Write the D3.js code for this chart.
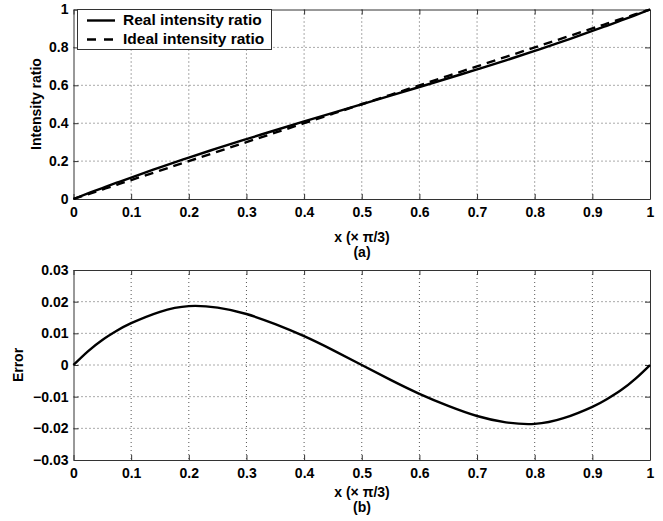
<!DOCTYPE html>
<html>
<head>
<meta charset="utf-8">
<script src="https://cdn.jsdelivr.net/npm/d3@7"></script>
<style>
  html, body { margin: 0; padding: 0; background: #fff; }
  svg { display: block; font-family: "Liberation Sans", Arial, Helvetica, sans-serif; font-weight: bold; }
</style>
</head>
<body>
<svg id="chart" width="663" height="521"></svg>
<script>
// ---- data ----
const xValues = [0, 0.025, 0.05, 0.075, 0.1, 0.15, 0.2, 0.25, 0.3, 0.35, 0.4, 0.45, 0.5,
                 0.55, 0.6, 0.65, 0.7, 0.75, 0.8, 0.85, 0.9, 0.925, 0.95, 0.975, 1];
const errorValues = [0, 0.0043, 0.0079, 0.0108, 0.0132, 0.0168, 0.0186, 0.0181, 0.0161, 0.0129, 0.0091, 0.0047, 0,
                     -0.0047, -0.0091, -0.0129, -0.0161, -0.0181, -0.0186, -0.0168, -0.0132, -0.0108, -0.0079, -0.0043, 0];
const idealRatio = [0, 0.025, 0.05, 0.075, 0.1, 0.15, 0.2, 0.25, 0.3, 0.35, 0.4, 0.45, 0.5,
                    0.55, 0.6, 0.65, 0.7, 0.75, 0.8, 0.85, 0.9, 0.925, 0.95, 0.975, 1];
const realRatio = [0, 0.0293, 0.0579, 0.0858, 0.1132, 0.1668, 0.2186, 0.2681, 0.3161, 0.3629, 0.4091, 0.4547, 0.5,
                   0.5453, 0.5909, 0.6371, 0.6839, 0.7319, 0.7814, 0.8332, 0.8868, 0.9142, 0.9421, 0.9707, 1];
const xTicks = [0, 0.1, 0.2, 0.3, 0.4, 0.5, 0.6, 0.7, 0.8, 0.9, 1];
const xTickLabels = ["0", "0.1", "0.2", "0.3", "0.4", "0.5", "0.6", "0.7", "0.8", "0.9", "1"];
const yTicksA = [0, 0.2, 0.4, 0.6, 0.8, 1];
const yTickLabelsA = ["0", "0.2", "0.4", "0.6", "0.8", "1"];
const yTicksB = [-0.03, -0.02, -0.01, 0, 0.01, 0.02, 0.03];
const yTickLabelsB = ["\u22120.03", "\u22120.02", "\u22120.01", "0", "0.01", "0.02", "0.03"];
const legendLabels = ["Real intensity ratio", "Ideal intensity ratio"];

// ---- drawing ----
const svg = d3.select("#chart");
const L = 73.5, R = 650;

function panel(top, bottom, yDomain, yTicks, yTickLabels) {
  const x = d3.scaleLinear().domain([0, 1]).range([L, R]);
  const y = d3.scaleLinear().domain(yDomain).range([bottom, top]);
  const g = svg.append("g");
  // grid
  g.append("g").selectAll("line").data(xTicks.slice(1, -1)).join("line")
    .attr("x1", d => x(d)).attr("x2", d => x(d)).attr("y1", top).attr("y2", bottom)
    .attr("stroke", "#555").attr("stroke-width", 1).attr("stroke-dasharray", "1,3");
  g.append("g").selectAll("line").data(yTicks.slice(1, -1)).join("line")
    .attr("y1", d => y(d)).attr("y2", d => y(d)).attr("x1", L).attr("x2", R)
    .attr("stroke", "#555").attr("stroke-width", 1).attr("stroke-dasharray", "1,3");
  // axes with inward ticks
  const fmtX = (d, i) => xTickLabels[i];
  const fmtY = (d, i) => yTickLabels[i];
  const ax = g.append("g").attr("transform", `translate(0,${bottom})`)
    .call(d3.axisBottom(x).tickValues(xTicks).tickFormat(fmtX).tickSizeInner(-5).tickSizeOuter(0).tickPadding(8));
  const ay = g.append("g").attr("transform", `translate(${L},0)`)
    .call(d3.axisLeft(y).tickValues(yTicks).tickFormat(fmtY).tickSizeInner(-5).tickSizeOuter(0).tickPadding(5));
  const at = g.append("g").attr("transform", `translate(0,${top})`)
    .call(d3.axisTop(x).tickValues(xTicks).tickFormat("").tickSizeInner(-5).tickSizeOuter(0));
  const ar = g.append("g").attr("transform", `translate(${R},0)`)
    .call(d3.axisRight(y).tickValues(yTicks).tickFormat("").tickSizeInner(-5).tickSizeOuter(0));
  [ax, ay, at, ar].forEach(a => {
    a.selectAll("path.domain").attr("stroke", "#333");
    a.selectAll(".tick line").attr("stroke", "#333");
    a.selectAll("text").attr("font-size", 14).attr("font-weight", "bold")
      .attr("font-family", "'Liberation Sans', Arial, sans-serif").attr("fill", "#000");
  });
  return {x, y, g};
}

// Panel (a)
const A = panel(9.5, 199, [0, 1], yTicksA, yTickLabelsA);
const lineA = d3.line().x((d, i) => A.x(xValues[i])).y(d => A.y(d)).curve(d3.curveNatural);
A.g.append("path").datum(idealRatio).attr("d", lineA)
  .attr("fill", "none").attr("stroke", "#000").attr("stroke-width", 2.4).attr("stroke-dasharray", "9,6");
A.g.append("path").datum(realRatio).attr("d", lineA)
  .attr("fill", "none").attr("stroke", "#000").attr("stroke-width", 2.4);

// legend
const lg = svg.append("g");
lg.append("rect").attr("x", 77.5).attr("y", 9.5).attr("width", 194).attr("height", 40)
  .attr("fill", "#fff").attr("stroke", "#333").attr("stroke-width", 1);
lg.append("line").attr("x1", 87).attr("x2", 115).attr("y1", 20.5).attr("y2", 20.5)
  .attr("stroke", "#000").attr("stroke-width", 2.4);
lg.append("line").attr("x1", 87).attr("x2", 115).attr("y1", 39.5).attr("y2", 39.5)
  .attr("stroke", "#000").attr("stroke-width", 2.4).attr("stroke-dasharray", "9,8");
lg.selectAll("text").data(legendLabels).join("text")
  .attr("x", 123).attr("y", (d, i) => 25 + i * 19)
  .attr("font-size", 15.5).text(d => d);

svg.append("text").attr("transform", "translate(41,104) rotate(-90)")
  .attr("text-anchor", "middle").attr("font-size", 14).text("Intensity ratio");
svg.append("text").attr("x", 362).attr("y", 242).attr("text-anchor", "middle").attr("font-size", 14).text("x (\u00d7 \u03c0/3)");
svg.append("text").attr("x", 362).attr("y", 257).attr("text-anchor", "middle").attr("font-size", 14).text("(a)");

// Panel (b)
const B = panel(270, 460, [-0.03, 0.03], yTicksB, yTickLabelsB);
const lineB = d3.line().x((d, i) => B.x(xValues[i])).y(d => B.y(d)).curve(d3.curveNatural);
B.g.append("path").datum(errorValues).attr("d", lineB)
  .attr("fill", "none").attr("stroke", "#000").attr("stroke-width", 2.4);

svg.append("text").attr("transform", "translate(23,365) rotate(-90)")
  .attr("text-anchor", "middle").attr("font-size", 14).text("Error");
svg.append("text").attr("x", 362).attr("y", 497).attr("text-anchor", "middle").attr("font-size", 14).text("x (\u00d7 \u03c0/3)");
svg.append("text").attr("x", 362).attr("y", 512).attr("text-anchor", "middle").attr("font-size", 14).text("(b)");
</script>
</body>
</html>
